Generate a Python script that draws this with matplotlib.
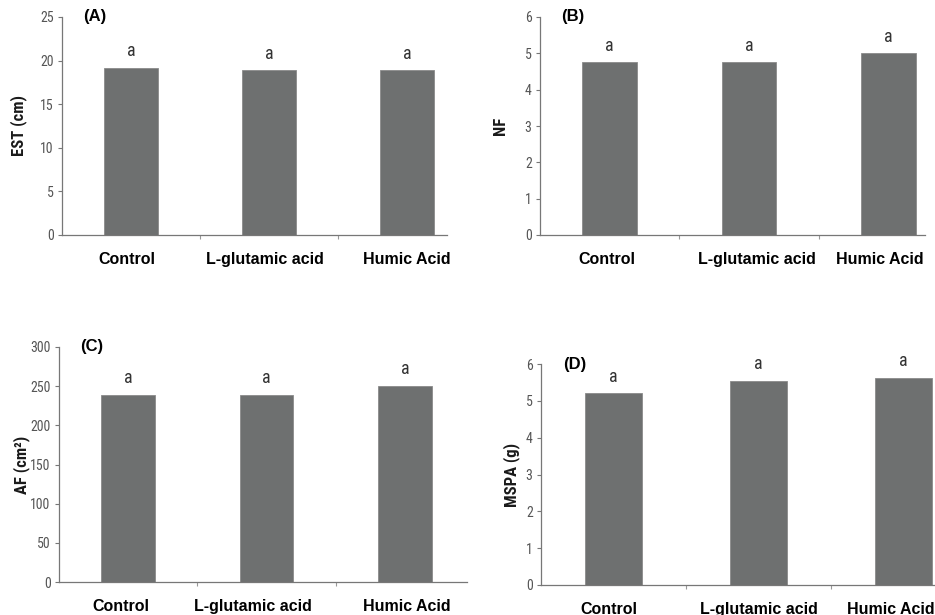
import matplotlib
matplotlib.use("Agg")
import matplotlib.pyplot as plt
from matplotlib import font_manager as fm
from matplotlib.transforms import ScaledTranslation

categories = ["Control", "L-glutamic acid", "Humic Acid"]
est = [19.15, 18.9, 18.9]
nf = [4.75, 4.75, 5.0]
af = [239, 239, 250]
mspa = [5.2, 5.55, 5.62]
letters_a = ["a", "a", "a"]
letters_b = ["a", "a", "a"]
letters_c = ["a", "a", "a"]
letters_d = ["a", "a", "a"]

avail = {f.name for f in fm.fontManager.ttflist}
cands = ["Liberation Sans Narrow", "Roboto Condensed", "Open Sans Condensed",
         "Noto Sans Condensed", "DejaVu Sans Condensed", "Liberation Sans"]
narrow = next(c for c in cands if c in avail) if any(c in avail for c in cands) else "DejaVu Sans"
plt.rcParams['font.family'] = [narrow, 'DejaVu Sans']

W, H = 935, 615
fig = plt.figure(figsize=(W / 100, H / 100), dpi=100)

BAR = "#6e7070"
TICKC = "#555555"

panels = [
    # left, right, bottom, top (px), data, ymax, yticks, ylabel, panel, letters, spine end,
    # ylabel x (px), label x-offsets (px)
    (62, 476, 235, 17, est, 25, range(0, 26, 5), "EST (cm)", "(A)", letters_a, 2.29, 19, (-4, -4, 0)),
    (540, 958, 235, 17, nf, 6, range(0, 7), "NF", "(B)", letters_b, 2.26, 501, (-3, 8, -9)),
    (59, 474, 582, 347, af, 300, range(0, 301, 50), "AF (cm\u00b2)", "(C)", letters_c, 2.45, 22, (-7, -14, 2)),
    (541, 976, 585, 364, mspa, 6, range(0, 7), "MSPA (g)", "(D)", letters_d, 2.6, 512, (-5, 0, -13)),
]

for (l, r, b, t, vals, ymax, yt, ylab, plab, lets, xend, ylx, offs) in panels:
    ax = fig.add_axes([l / W, 1 - b / H, (r - l) / W, (b - t) / H])
    x = list(range(len(categories)))
    ax.bar(x, vals, width=0.39, color=BAR, edgecolor="#8a8a8a", linewidth=0.6, zorder=2)
    ax.set_xlim(-0.5, 2.5)
    ax.set_ylim(0, ymax)
    ax.set_yticks(list(yt))
    ax.set_yticklabels([str(v) for v in yt], fontsize=10, color=TICKC)
    ax.tick_params(axis='y', length=3, width=0.8, color="#777777", pad=3)
    ax.set_xticks(x)
    ax.set_xticklabels(categories, fontsize=11.5, fontweight='bold', color="black",
                       family=['Liberation Sans', 'DejaVu Sans'])
    ax.tick_params(axis='x', length=0, pad=12)
    for lab, o in zip(ax.get_xticklabels(), offs):
        lab.set_transform(lab.get_transform() + ScaledTranslation(o / 100, 0, fig.dpi_scale_trans))
    ax.set_xticks([0.5, 1.5], minor=True)
    ax.tick_params(axis='x', which='minor', length=3, width=0.8, color="#999999")
    for s in ("top", "right"):
        ax.spines[s].set_visible(False)
    ax.spines["left"].set_color("#777777")
    ax.spines["bottom"].set_color("#777777")
    ax.spines["left"].set_linewidth(0.9)
    ax.spines["bottom"].set_linewidth(0.9)
    ax.spines["bottom"].set_bounds(-0.5, xend)
    ax.set_ylabel(ylab, fontsize=12, fontweight='bold', color="#1a1a1a")
    ax.yaxis.set_label_coords((ylx - l) / (r - l), 0.5)
    ax.yaxis.label.set_va('center')
    ax.text(0.05, 1.0, plab, transform=ax.transAxes, fontsize=12, fontweight='bold',
            ha='left', va='center', family=['Liberation Sans', 'DejaVu Sans'])
    for xi, v, s in zip(x, vals, lets):
        ax.annotate(s, (xi, v), xytext=(0, 12), textcoords='offset points',
                    ha='center', va='center', fontsize=13, color="#333333")

fig.savefig("out.png", dpi=100)
